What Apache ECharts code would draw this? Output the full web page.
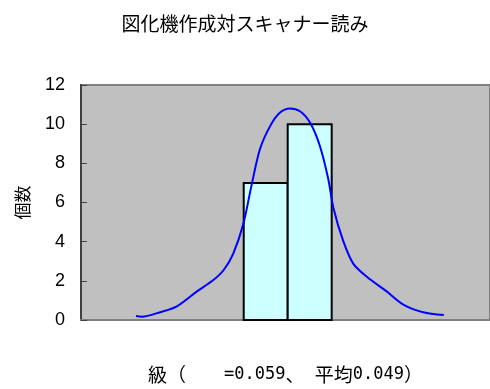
<!DOCTYPE html>
<html><head><meta charset="utf-8">
<script src="https://cdn.jsdelivr.net/npm/echarts@6/dist/echarts.min.js"></script>
<style>html,body{margin:0;padding:0;background:#fff}#c{width:490px;height:389px}</style>
</head><body><div id="c"></div>
<script>
var titleText = '図化機作成対スキャナー読み';
var xNameParts = ['級（　　', '=0.059', '、', ' ', '平均', '0.049', '）'];
var xNameStyles = ['a', 'b', 'a', 'b', 'a', 'b', 'a'];
var yName = '個数';
// histogram bins: [from, to, count]
var binFrom = [0.037, 0.047];
var binTo = [0.047, 0.057];
var binCount = [7, 10];
// fitted curve
var curveX = [0.0125,0.0138,0.0180,0.0218,0.0263,0.0301,0.0324,0.0346,0.0369,0.0388,0.0407,0.0430,0.0452,0.0475,0.0498,0.0521,0.0543,0.0562,0.0574,0.0596,0.0619,0.0650,0.0695,0.0733,0.0778,0.0825];
var curveY = [0.2,0.17,0.4,0.7,1.45,2.04,2.54,3.38,4.9,6.9,8.73,9.9,10.58,10.8,10.66,10.07,8.9,7.23,5.72,4.05,2.88,2.21,1.46,0.79,0.4,0.25];

var barData = binFrom.map(function(f,i){return [f, binTo[i], binCount[i]];});
var lineData = curveX.map(function(x,i){return [x, curveY[i]];});
var xName = xNameParts.map(function(p,i){return '{'+xNameStyles[i]+'|'+p+'}';}).join('');

var chart = echarts.init(document.getElementById('c'));
chart.setOption({
  animation:false,
  textStyle:{fontFamily:'Liberation Sans, Arial, sans-serif'},
  title:{text:titleText,left:'center',top:9,textStyle:{fontSize:19,fontWeight:'normal',color:'#000',fontFamily:'Noto Sans CJK JP'}},
  grid:{left:81,right:0,top:85,bottom:65,show:true,backgroundColor:'#C0C0C0',borderColor:'#808080',borderWidth:2},
  xAxis:{type:'value',min:0,max:0.093,name:xName,nameLocation:'middle',nameGap:45,
    nameTextStyle:{color:'#000',rich:{
      a:{fontSize:19,fontFamily:'Noto Sans CJK JP',color:'#000'},
      b:{fontSize:17,fontFamily:'DejaVu Sans Mono',color:'#000'}}},
    axisLine:{show:true,lineStyle:{color:'#808080',width:2}},axisTick:{show:false},axisLabel:{show:false},splitLine:{show:false}},
  yAxis:{type:'value',min:0,max:12,interval:2,name:yName,nameLocation:'middle',nameGap:50,nameRotate:90,
    nameTextStyle:{fontSize:17,color:'#000',fontFamily:'Noto Sans CJK JP'},
    axisLine:{show:true,lineStyle:{color:'#404040',width:2}},
    axisTick:{show:true,inside:true,length:6,lineStyle:{color:'#404040',width:1}},
    axisLabel:{fontSize:18,color:'#000',margin:16},splitLine:{show:false}},
  series:[
    {type:'custom',data:barData,encode:{x:[0,1],y:2},
     renderItem:function(params,api){
       var p0=api.coord([api.value(0),0]);
       var p1=api.coord([api.value(1),api.value(2)]);
       return {type:'rect',shape:{x:p0[0],y:p1[1],width:p1[0]-p0[0],height:p0[1]-p1[1]},
         style:{fill:'#CCFFFF',stroke:'#000',lineWidth:2}};
     }},
    {type:'line',data:lineData,smooth:0.3,showSymbol:false,lineStyle:{color:'#0000FF',width:2},z:5}
  ]
});
</script></body></html>
